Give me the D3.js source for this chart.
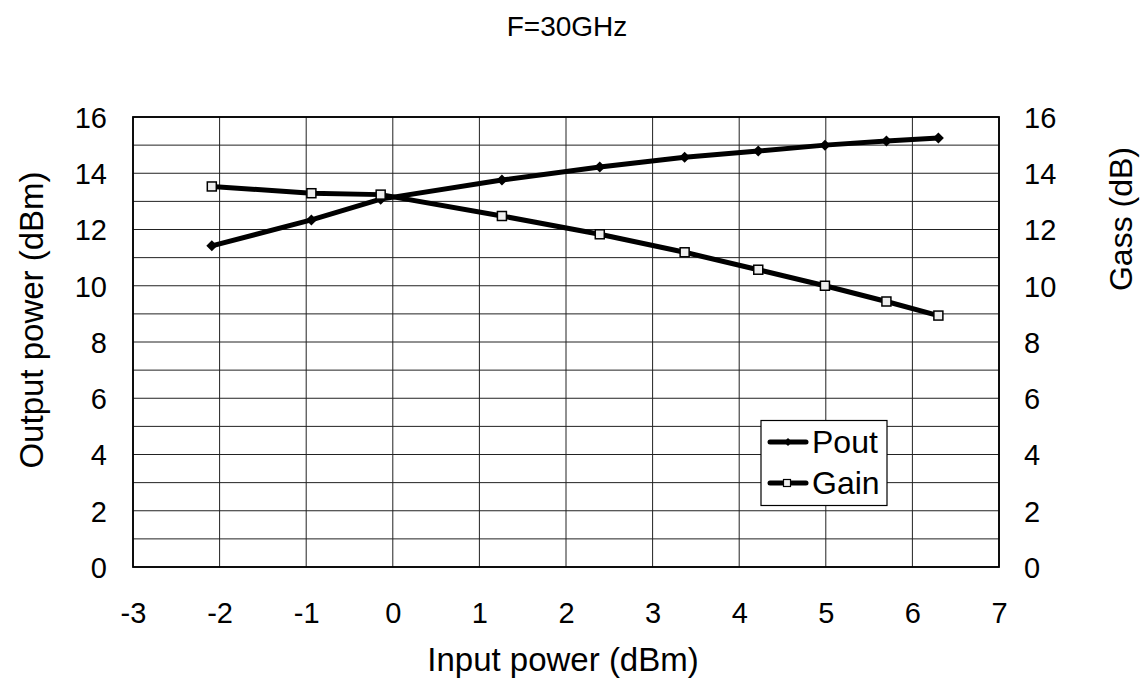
<!DOCTYPE html>
<html>
<head>
<meta charset="utf-8">
<script src="https://cdn.jsdelivr.net/npm/d3@7"></script>
<style>
  html, body { margin: 0; padding: 0; background: #fff; }
  svg { display: block; font-family: "Liberation Sans", Arial, sans-serif; }
</style>
</head>
<body>
<svg id="chart" width="1144" height="685"></svg>
<script>
// ---- data ----
const inputPower = [-2.09, -0.94, -0.14, 1.26, 2.39, 3.37, 4.22, 4.99, 5.70, 6.30];
const pout       = [11.42, 12.34, 13.08, 13.76, 14.22, 14.57, 14.79, 15.00, 15.15, 15.25];
const gain       = [13.53, 13.29, 13.24, 12.48, 11.83, 11.19, 10.57, 10.00, 9.44, 8.94];
const xTicks = [-3, -2, -1, 0, 1, 2, 3, 4, 5, 6, 7];
const yTicks = [0, 2, 4, 6, 8, 10, 12, 14, 16];
const yGrid  = d3.range(0, 17, 1);
const seriesNames = ["Pout", "Gain"];
const titleText = "F=30GHz";
const xLabel = "Input power (dBm)";
const yLabelLeft = "Output power (dBm)";
const yLabelRight = "Gass (dB)";

// ---- layout ----
const svg = d3.select("#chart");
const L = 133, R = 999, T = 117, B = 567;
const x = d3.scaleLinear().domain([-3, 7]).range([L, R]);
const y = d3.scaleLinear().domain([0, 16]).range([B, T]);
const y2 = d3.scaleLinear().domain([0, 16]).range([B, T]);

// grid
const grid = svg.append("g");
grid.selectAll("line.h").data(yGrid).join("line")
  .attr("x1", L).attr("x2", R)
  .attr("y1", d => y(d)).attr("y2", d => y(d))
  .attr("stroke", "#222").attr("stroke-width", 1);
grid.selectAll("line.v").data(xTicks).join("line")
  .attr("y1", T).attr("y2", B)
  .attr("x1", d => x(d)).attr("x2", d => x(d))
  .attr("stroke", "#222").attr("stroke-width", 1);

// frame
svg.append("rect").attr("x", L).attr("y", T).attr("width", R - L).attr("height", B - T)
  .attr("fill", "none").attr("stroke", "#000").attr("stroke-width", 1.8);

// axes
const fmt = d => String(d);
const xAxis = svg.append("g").attr("transform", `translate(0,${B})`)
  .call(d3.axisBottom(x).tickValues(xTicks).tickSize(0).tickPadding(0).tickFormat(fmt));
xAxis.select(".domain").remove();
xAxis.selectAll("text").attr("y", 56).attr("dy", null)
  .attr("font-size", 29).attr("fill", "#000").attr("font-family", null);

const yAxis = svg.append("g").attr("transform", `translate(${L},0)`)
  .call(d3.axisLeft(y).tickValues(yTicks).tickSize(0).tickPadding(0).tickFormat(fmt));
yAxis.select(".domain").remove();
yAxis.selectAll("text").attr("x", -26).attr("dy", "0.36em")
  .attr("font-size", 29).attr("fill", "#000").attr("font-family", null);

const yAxisR = svg.append("g").attr("transform", `translate(${R},0)`)
  .call(d3.axisRight(y2).tickValues(yTicks).tickSize(0).tickPadding(0).tickFormat(fmt));
yAxisR.select(".domain").remove();
yAxisR.selectAll("text").attr("x", 25).attr("dy", "0.36em")
  .attr("font-size", 29).attr("fill", "#000").attr("font-family", null);

// titles
svg.append("text").attr("x", 567).attr("y", 36).attr("text-anchor", "middle")
  .attr("font-size", 28).text(titleText);
svg.append("text").attr("x", 563).attr("y", 671).attr("text-anchor", "middle")
  .attr("font-size", 33).text(xLabel);
svg.append("text").attr("transform", "translate(43,320) rotate(-90)").attr("text-anchor", "middle")
  .attr("font-size", 33).text(yLabelLeft);
svg.append("text").attr("transform", "translate(1132,219) rotate(-90)").attr("text-anchor", "middle")
  .attr("font-size", 32).text(yLabelRight);

// series
const poutData = inputPower.map((v, i) => [v, pout[i]]);
const gainData = inputPower.map((v, i) => [v, gain[i]]);

svg.append("path").datum(gainData)
  .attr("d", d3.line().x(d => x(d[0])).y(d => y2(d[1])))
  .attr("fill", "none").attr("stroke", "#000").attr("stroke-width", 5).attr("stroke-linejoin", "round");
svg.append("path").datum(poutData)
  .attr("d", d3.line().x(d => x(d[0])).y(d => y(d[1])))
  .attr("fill", "none").attr("stroke", "#000").attr("stroke-width", 5).attr("stroke-linejoin", "round");

const diamond = s => `M0,${-s}L${s},0L0,${s}L${-s},0Z`;
svg.append("g").selectAll("path").data(poutData).join("path")
  .attr("transform", d => `translate(${x(d[0])},${y(d[1])})`)
  .attr("d", diamond(5.5)).attr("fill", "#000");
svg.append("g").selectAll("rect").data(gainData).join("rect")
  .attr("x", d => x(d[0]) - 4.5).attr("y", d => y2(d[1]) - 4.5)
  .attr("width", 9).attr("height", 9)
  .attr("fill", "#eee").attr("stroke", "#000").attr("stroke-width", 1.5);

// legend
const lg = svg.append("g");
lg.append("rect").attr("x", 761).attr("y", 420.5).attr("width", 126).attr("height", 85)
  .attr("fill", "#fff").attr("stroke", "#000").attr("stroke-width", 1.2);
const legY = [442, 483];
seriesNames.forEach((name, i) => {
  const yy = legY[i];
  lg.append("line").attr("x1", 770).attr("x2", 806).attr("y1", yy).attr("y2", yy)
    .attr("stroke", "#000").attr("stroke-width", 5).attr("stroke-linecap", "round");
  if (i === 0) {
    lg.append("path").attr("transform", `translate(788,${yy})`).attr("d", diamond(4)).attr("fill", "#000");
  } else {
    lg.append("rect").attr("x", 783.5).attr("y", yy - 3.5).attr("width", 7).attr("height", 7)
      .attr("fill", "#eee").attr("stroke", "#000").attr("stroke-width", 1.2);
  }
  lg.append("text").attr("x", 812).attr("y", yy + 11).attr("font-size", 32).text(name);
});
</script>
</body>
</html>
